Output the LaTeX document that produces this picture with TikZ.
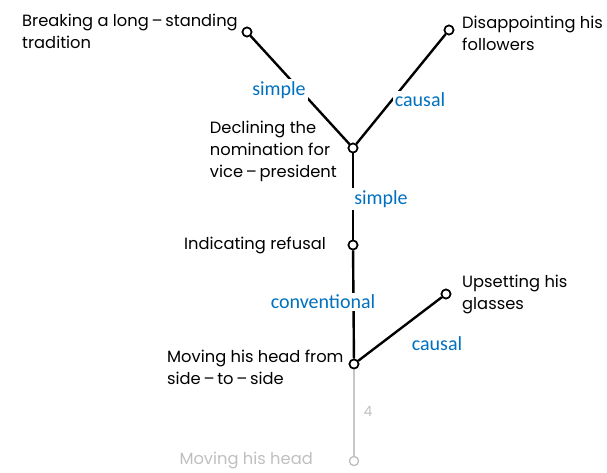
\documentclass[tikz,border=0pt]{standalone}
\usepackage{fontspec}
\setmainfont{Poppins}
\newfontfamily\lblfont{Carlito}
\definecolor{lblblue}{RGB}{0,112,192}
\begin{document}
\begin{tikzpicture}[x=1pt,y=-1pt,
  edge/.style={line width=2.4pt,black},
  dot/.style={circle,draw=black,fill=white,line width=1.6pt,inner sep=0pt,minimum size=9pt},
  gdot/.style={circle,draw=black!25,fill=white,line width=1.2pt,inner sep=0pt,minimum size=9pt},
  txt/.style={font=\fontsize{16.3}{22}\selectfont,inner sep=0pt,align=left},
  lbl/.style={font=\lblfont\fontsize{20}{22}\selectfont,text=lblblue,fill=white,inner sep=2pt}]
\useasboundingbox (0,0) rectangle (607,472);
\node[dot] (brk) at (247,32) {};
\node[dot] (dis) at (449,30) {};
\node[dot] (dec) at (353,148) {};
\node[dot] (ind) at (353,245) {};
\node[dot] (ups) at (446,294) {};
\node[dot] (mov) at (354,364) {};
\node[gdot] (mh) at (354,461) {};
\draw[line width=2pt,black!22] (mov) -- (mh);
\draw[edge] (brk) -- (dec);
\draw[edge] (dis) -- (dec);
\draw[edge] (dec) -- (ind);
\draw[edge] (ind) -- (mov);
\draw[edge] (mov) -- (ups);
\node[dot] at (brk) {};
\node[dot] at (dis) {};
\node[dot] at (dec) {};
\node[dot] at (ind) {};
\node[dot] at (ups) {};
\node[dot] at (mov) {};
\node[gdot] at (mh) {};
% labels
\node[lbl] (l1) at (279,90) {simple};
\node[lbl] (l2) at (420,100) {causal};
\node[lbl] (l3) at (381,199) {simple};
\node[lbl] (l4) at (323,302) {conventional};
\node[lbl] (l5) at (437,344) {causal};
% texts
\node[txt,anchor=west] (t1) at (22,31) {Breaking a long\,–\,standing\\tradition};
\node[txt,anchor=west] (t2) at (462,33) {Disappointing his\\followers};
\node[txt,anchor=east,align=left] (t3) at (337,151) {Declining the\\nomination for\\vice\,–\,president};
\node[txt,anchor=east] (t4) at (326,245) {Indicating refusal};
\node[txt,anchor=west] (t5) at (462,294) {Upsetting his\\glasses};
\node[txt,anchor=west] (t6) at (167,367) {Moving his head from\\side\,–\,to\,–\,side};
\node[txt,anchor=east,text=black!25] (t7) at (313,460) {Moving his head};
\node[txt,text=black!25,font=\fontsize{14}{16}\selectfont] (t8) at (368,411) {4};
\end{tikzpicture}
\end{document}
